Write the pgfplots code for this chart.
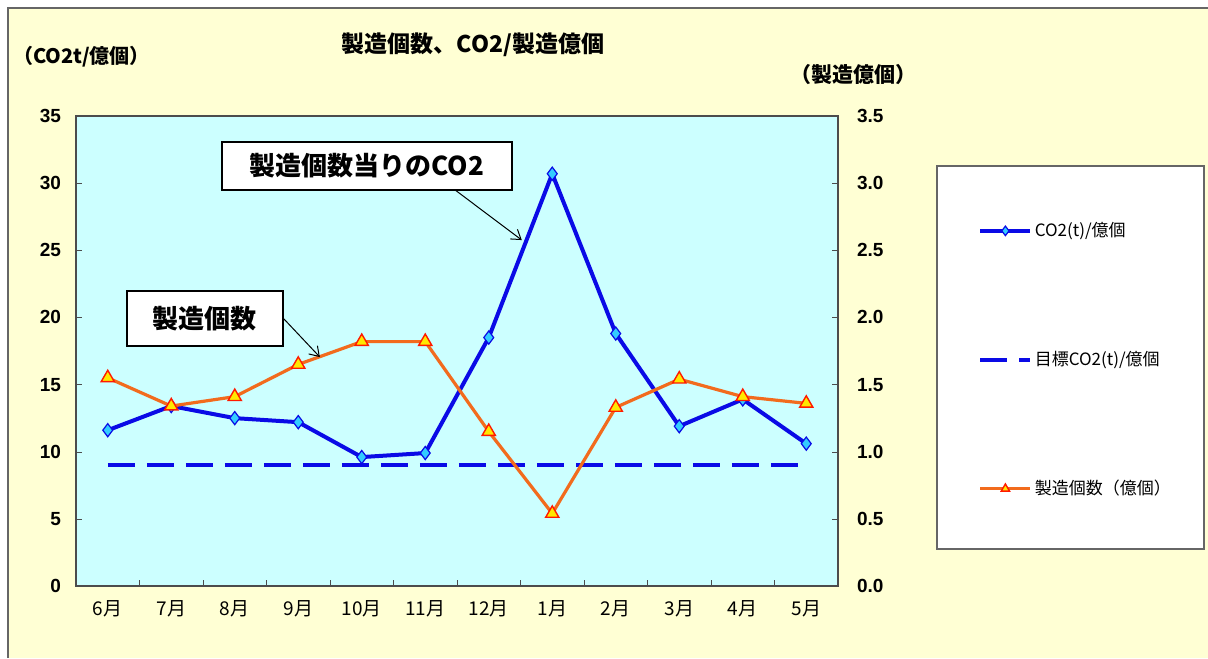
\documentclass[border=0pt]{standalone}
\usepackage{fontspec}
\setmainfont{Liberation Sans}
\newfontfamily\cjk{Noto Sans CJK JP}
\usepackage{pgfplots}
\usepackage{pgfplotstable}
\pgfplotsset{compat=1.18}
\usetikzlibrary{arrows.meta}

\definecolor{bgyellow}{HTML}{FFFFD4}
\definecolor{plotcyan}{HTML}{CCFFFF}
\definecolor{co2blue}{HTML}{0A0AE6}
\definecolor{markcyan}{HTML}{33CCFF}
\definecolor{prodorange}{HTML}{F26B1D}
\definecolor{markyellow}{HTML}{FFE800}
\definecolor{markred}{HTML}{FF1A00}

% month, CO2 per 100M units, target, production (100M units)
\pgfplotstableread{
m  co2   target prod
0  11.6  9.0    1.55
1  13.4  9.0    1.34
2  12.5  9.0    1.41
3  12.2  9.0    1.65
4  9.6   9.0    1.82
5  9.9   9.0    1.82
6  18.5  9.0    1.15
7  30.7  9.0    0.54
8  18.8  9.0    1.33
9  11.9  9.0    1.54
10 13.9  9.0    1.41
11 10.6  9.0    1.36
}\datatable

\pgfplotsset{
  co2style/.style={co2blue, line width=2pt, mark=diamond*, mark size=3.3pt,
    mark options={solid, fill=markcyan, draw=co2blue, line width=0.6pt}},
  targetstyle/.style={co2blue, line width=2pt, dash pattern=on 13.5pt off 6pt},
  prodstyle/.style={prodorange, line width=1.6pt, mark=triangle*, mark size=3.8pt,
    mark options={solid, fill=markyellow, draw=markred, line width=0.7pt}},
  common/.style={
    at={(38pt,36pt)}, anchor=south west, scale only axis,
    width=381pt, height=235pt, xmin=-0.5, xmax=11.5,
    tick align=inside, major tick length=3pt, minor tick length=3pt,
    /pgf/number format/assume math mode=true,
    clip=false,
  },
}

\begin{document}
\begin{tikzpicture}[x=1pt,y=1pt]
\useasboundingbox (0,0) rectangle (604,329);
\fill[white] (0,0) rectangle (604,329);
\fill[bgyellow] (4,0) rectangle (604,325);
\draw[black!60, line width=0.6pt] (4,0) -- (4,325) -- (604,325);
% legend frame
\draw[fill=white, draw=black!60, line width=0.6pt] (468.5,54.5) rectangle (602,246);

% titles
\node[font=\cjk\bfseries\fontsize{11.5}{13}\selectfont] at (236.5,306.5) {製造個数、CO2/製造億個};
\node[font=\cjk\bfseries\fontsize{10}{12}\selectfont] at (40.75,300.5) {（CO2t/億個）};
\node[font=\cjk\bfseries\fontsize{10.5}{12}\selectfont] at (426.5,291.5) {（製造億個）};

\begin{axis}[common,
  ymin=0, ymax=35,
  axis background/.style={fill=plotcyan},
  axis line style={black!70, line width=0.6pt},
  xtick={0,...,11},
  xticklabels={6月,7月,8月,9月,10月,11月,12月,1月,2月,3月,4月,5月},
  major x tick style={draw=none},
  minor xtick={0.5,1.5,...,10.5},
  minor x tick style={black!70},
  xtick pos=bottom,
  ytick={0,5,...,35},
  ytick pos=left,
  y tick style={black!70},
  yticklabel style={font=\bfseries\fontsize{9.5}{11}\selectfont, xshift=-4pt},
  xticklabel style={font=\cjk\fontsize{9.5}{11}\selectfont, yshift=-3.5pt},
]
\addplot[targetstyle] table[x=m, y=target] {\datatable};
\addplot[co2style] table[x=m, y=co2] {\datatable};
\end{axis}

\begin{axis}[common,
  ymin=0, ymax=3.5,
  axis x line=none,
  axis y line*=right,
  axis line style={black!70, line width=0.6pt},
  ytick={0,0.5,...,3.5},
  y tick style={black!70},
  yticklabel style={font=\bfseries\fontsize{9.5}{11}\selectfont, xshift=6pt,
    /pgf/number format/.cd, fixed, fixed zerofill, precision=1},
  legend image code/.code={\draw[mark repeat=2, mark phase=2, #1, mark size=2.4pt]
    plot coordinates {(0pt,0pt) (12.5pt,0pt) (25pt,0pt)};},
  legend cell align=left,
  legend style={at={(rel axis cs:1.1837,0.779)}, anchor=north west,
    draw=none, fill=none, inner sep=0pt, row sep=53.8pt,
    font=\cjk\fontsize{8.5}{10}\selectfont,
    nodes={inner xsep=1.2pt, inner ysep=1pt}},
]
\addlegendimage{co2style}
\addlegendentry{CO2(t)/億個}
\addlegendimage{targetstyle}
\addlegendentry{目標CO2(t)/億個}
\addplot[prodstyle] table[x=m, y=prod] {\datatable};
\addlegendentry{製造個数（億個）}

% callouts
\node[draw=black, fill=white, line width=0.7pt, minimum width=145pt, minimum height=24pt,
  font=\cjk\bfseries\fontsize{13}{15}\selectfont] at (axis cs:4.08,3.127) {製造個数当りのCO2};
\draw[line width=0.5pt, -{Straight Barb[length=4.5pt, width=6pt]}]
  (axis cs:5.47,2.949) -- (axis cs:6.52,2.576);
\node[draw=black, fill=white, line width=0.7pt, minimum width=78pt, minimum height=27.5pt,
  font=\cjk\bfseries\fontsize{13}{15}\selectfont] at (axis cs:1.53,1.992) {製造個数};
\draw[line width=0.5pt, -{Straight Barb[length=4.5pt, width=6pt]}]
  (axis cs:2.76,1.996) -- (axis cs:3.34,1.705);
\end{axis}
\end{tikzpicture}
\end{document}
